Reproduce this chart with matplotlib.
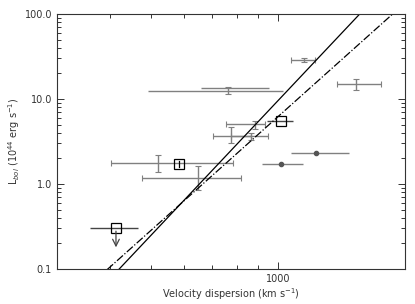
import numpy as np
import matplotlib
matplotlib.use("Agg")
import matplotlib.pyplot as plt
from matplotlib.ticker import LogLocator, FuncFormatter, NullFormatter

plt.rcParams['font.family'] = ['DejaVu Sans']

# gray error-bar points: sigma, L, x range, y range
sig = [521, 647, 776, 866, 881, 1153, 1529]
lum = [1.75, 1.18, 3.67, 3.67, 5.04, 28.8, 15.0]
sig_lo = [404, 477, 701, 776, 755, 1074, 1380]
sig_hi = [782, 816, 866, 948, 931, 1225, 1750]
lum_lo = [1.40, 0.85, 3.01, 3.30, 4.44, 27.5, 12.8]
lum_hi = [2.19, 1.63, 4.72, 3.94, 5.51, 30.0, 17.2]

# the wide pair near L ~ 12
pair_sig = [762, 762]
pair_lum = [12.3, 13.4]
pair_lo = [493, 659]
pair_hi = [1028, 952]
pair_err_sig = [762]
pair_err_mid = [12.6]
pair_err_lo = [11.3]
pair_err_hi = [14.0]

# squares
sq_sig = [584, 1016]
sq_lum = [1.72, 5.5]
sq_lo = [584, 945]
sq_hi = [584, 1086]

# upper limit square
ul_sig = [414]
ul_lum = [0.30]
ul_lo = [359]
ul_hi = [467]
ul_tip = [0.18]

# filled dots
dot_sig = [1015, 1229]
dot_lum = [1.71, 2.32]
dot_lo = [915, 1072]
dot_hi = [1145, 1476]

# fitted relations L = L0 * (sigma / s0) ** slope
fit_s0 = 590
fit_L0 = 0.59
fit_slope = [5.27, 4.45]
fit_style = ['-', '-.']

fig = plt.figure(figsize=(4.15, 3.04), dpi=100)
ax = fig.add_axes([0.137, 0.115, 0.839, 0.839])

gray = '#808080'
s = np.array(sig); l = np.array(lum)
ax.errorbar(s, l, xerr=[s - np.array(sig_lo), np.array(sig_hi) - s],
            yerr=[l - np.array(lum_lo), np.array(lum_hi) - l],
            fmt='none', ecolor=gray, elinewidth=1.0, capsize=2, capthick=0.8)

ps = np.array(pair_sig); pl = np.array(pair_lum)
ax.errorbar(ps, pl, xerr=[ps - np.array(pair_lo), np.array(pair_hi) - ps],
            fmt='none', ecolor=gray, elinewidth=1.0)
pm = np.array(pair_err_mid)
ax.errorbar(pair_err_sig, pm, yerr=[pm - np.array(pair_err_lo), np.array(pair_err_hi) - pm],
            fmt='none', ecolor=gray, elinewidth=1.0, capsize=2, capthick=0.8)

ds = np.array(dot_sig); dl = np.array(dot_lum)
ax.errorbar(ds, dl, xerr=[ds - np.array(dot_lo), np.array(dot_hi) - ds],
            fmt='o', color='#555555', ms=3, ecolor=gray, elinewidth=1.0)

qs = np.array(sq_sig); ql = np.array(sq_lum)
ax.errorbar(qs, ql, xerr=[qs - np.array(sq_lo), np.array(sq_hi) - qs],
            fmt='s', mfc='none', mec='black', ms=6.5, mew=0.9,
            ecolor='#444444', elinewidth=1.0)
ax.plot([sq_sig[0], sq_sig[0]], [sq_lum[0] * 0.93, sq_lum[0] * 1.07], color='black', lw=0.9)

us = np.array(ul_sig); ulum = np.array(ul_lum)
ax.errorbar(us, ulum, xerr=[us - np.array(ul_lo), np.array(ul_hi) - us],
            fmt='s', mfc='none', mec='black', ms=6.5, mew=0.9,
            ecolor='#444444', elinewidth=1.0)
for x0, y0, y1 in zip(ul_sig, ul_lum, ul_tip):
    ax.annotate('', xy=(x0, y1), xytext=(x0, y0 * 0.93),
                arrowprops=dict(arrowstyle='->', color='#444444', lw=0.9,
                                mutation_scale=12, shrinkA=0, shrinkB=0))

xx = np.logspace(np.log10(300), np.log10(2000), 200)
for k, ls in zip(fit_slope, fit_style):
    ax.plot(xx, fit_L0 * (xx / fit_s0) ** k, color='black', ls=ls, lw=0.9)

ax.set_xscale('log')
ax.set_yscale('log')
ax.set_xlim(300, 2000)
ax.set_ylim(0.1, 100)

ax.xaxis.set_major_locator(LogLocator(base=10, numticks=10))
ax.xaxis.set_minor_locator(LogLocator(base=10, subs=np.arange(2, 10), numticks=10))
ax.xaxis.set_major_formatter(FuncFormatter(lambda v, p: f"{v:.0f}"))
ax.xaxis.set_minor_formatter(NullFormatter())
ax.yaxis.set_major_formatter(FuncFormatter(lambda v, p: f"{v:.1f}"))
ax.yaxis.set_minor_formatter(NullFormatter())

ax.tick_params(which='both', direction='in', top=True, right=True,
               labelsize=7, colors='#333333', width=0.7)
ax.tick_params(which='major', length=5)
ax.tick_params(which='minor', length=3)
for sp in ax.spines.values():
    sp.set_linewidth(0.8)
    sp.set_color('#333333')

ax.set_xlabel('Velocity dispersion (km s$^{-1}$)', fontsize=7, color='#333333', labelpad=2)
ax.set_ylabel('L$_{bol}$ (10$^{44}$ erg s$^{-1}$)', fontsize=7, color='#333333', labelpad=2)

fig.savefig('out.png', dpi=100)
